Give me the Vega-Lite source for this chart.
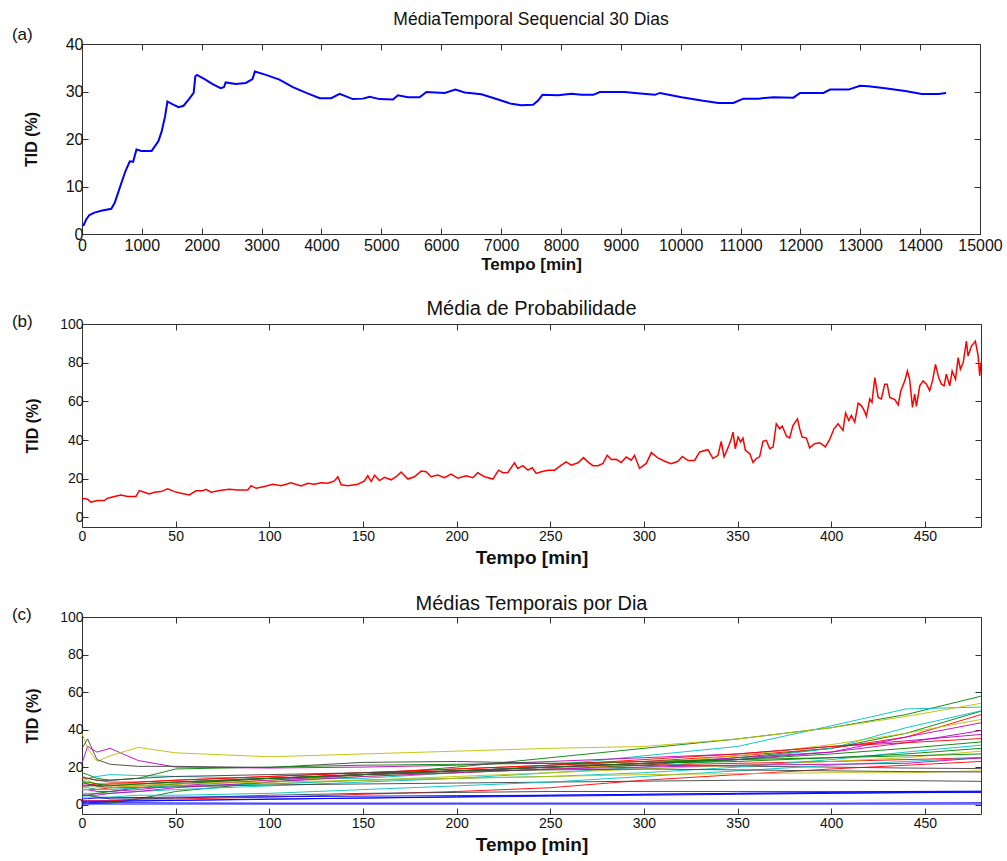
{
 "$schema": "https://vega.github.io/schema/vega-lite/v6.json",
 "background": "white",
 "padding": {"left": 11, "top": 10, "right": 5, "bottom": 5},
 "config": {
  "font": "Liberation Sans",
  "view": {"stroke": "#333", "strokeWidth": 1},
  "axis": {"grid": false, "domain": false, "tickColor": "#333", "tickSize": -6, "labelColor": "#111", "titleColor": "#111", "titleFontWeight": "bold", "labelFlush": false, "labelOverlap": false, "format": "d"},
  "title": {"fontWeight": "normal", "color": "#111"},
  "concat": {"spacing": 25}
 },
 "datasets": {
  "a": [
   {"t":0,"v":1.8},{"t":30,"v":1.9},{"t":67,"v":3.0},{"t":124,"v":4.0},{"t":208,"v":4.5},{"t":320,"v":4.9},{"t":489,"v":5.3},{"t":545,"v":6.5},{"t":601,"v":8.6},{"t":657,"v":10.7},{"t":725,"v":13.2},{"t":798,"v":15.3},{"t":854,"v":15.2},{"t":910,"v":17.8},{"t":994,"v":17.5},{"t":1163,"v":17.5},{"t":1275,"v":19.5},{"t":1331,"v":21.6},{"t":1388,"v":24.8},{"t":1427,"v":27.9},{"t":1500,"v":27.4},{"t":1612,"v":26.7},{"t":1697,"v":27.0},{"t":1781,"v":28.3},{"t":1865,"v":29.7},{"t":1893,"v":33.2},{"t":1921,"v":33.5},{"t":2062,"v":32.5},{"t":2174,"v":31.6},{"t":2315,"v":30.7},{"t":2371,"v":30.9},{"t":2399,"v":31.9},{"t":2567,"v":31.6},{"t":2736,"v":31.8},{"t":2848,"v":32.6},{"t":2888,"v":34.2},{"t":3073,"v":33.5},{"t":3298,"v":32.5},{"t":3522,"v":30.9},{"t":3747,"v":29.7},{"t":3972,"v":28.6},{"t":4163,"v":28.6},{"t":4303,"v":29.5},{"t":4525,"v":28.4},{"t":4693,"v":28.5},{"t":4805,"v":28.9},{"t":4972,"v":28.4},{"t":5195,"v":28.3},{"t":5278,"v":29.2},{"t":5445,"v":28.8},{"t":5640,"v":28.8},{"t":5752,"v":29.9},{"t":6058,"v":29.7},{"t":6237,"v":30.4},{"t":6393,"v":29.8},{"t":6671,"v":29.4},{"t":6950,"v":28.3},{"t":7173,"v":27.4},{"t":7340,"v":27.1},{"t":7535,"v":27.2},{"t":7619,"v":28.1},{"t":7691,"v":29.3},{"t":7953,"v":29.2},{"t":8176,"v":29.5},{"t":8343,"v":29.3},{"t":8539,"v":29.3},{"t":8650,"v":29.9},{"t":9068,"v":29.9},{"t":9235,"v":29.7},{"t":9569,"v":29.3},{"t":9653,"v":29.7},{"t":10016,"v":28.8},{"t":10350,"v":28.1},{"t":10629,"v":27.6},{"t":10880,"v":27.6},{"t":11047,"v":28.5},{"t":11298,"v":28.5},{"t":11549,"v":28.8},{"t":11883,"v":28.7},{"t":11994,"v":29.7},{"t":12385,"v":29.7},{"t":12496,"v":30.4},{"t":12803,"v":30.4},{"t":12997,"v":31.2},{"t":13137,"v":31.1},{"t":13415,"v":30.7},{"t":13750,"v":30.1},{"t":14028,"v":29.5},{"t":14307,"v":29.5},{"t":14434,"v":29.7}
  ],
  "b": [
   {"t":0,"v":9.9},{"t":3,"v":9.4},{"t":4.8,"v":7.9},{"t":8.4,"v":8.7},{"t":11.9,"v":8.7},{"t":13.7,"v":9.9},{"t":17.3,"v":10.8},{"t":20.8,"v":11.6},{"t":24.4,"v":10.8},{"t":28.8,"v":10.8},{"t":30.6,"v":13.8},{"t":33.3,"v":13},{"t":36,"v":12.1},{"t":38.6,"v":13},{"t":42.2,"v":13.3},{"t":45.8,"v":14.7},{"t":49.3,"v":13.3},{"t":52.9,"v":12.5},{"t":57.3,"v":11.6},{"t":60.9,"v":13.7},{"t":64.5,"v":13.8},{"t":66.2,"v":14.5},{"t":68.9,"v":13},{"t":74.3,"v":14},{"t":78.7,"v":14.5},{"t":83.2,"v":14.2},{"t":88.5,"v":14.2},{"t":90.3,"v":16.4},{"t":93,"v":15},{"t":97.4,"v":15.9},{"t":101.9,"v":17.1},{"t":106.3,"v":16.4},{"t":111.6,"v":17.9},{"t":117,"v":16.2},{"t":120.6,"v":17.6},{"t":124.1,"v":17.1},{"t":127.7,"v":17.9},{"t":131.2,"v":17.6},{"t":134.8,"v":18.8},{"t":136.6,"v":21},{"t":138.4,"v":16.8},{"t":141.9,"v":16.4},{"t":147.3,"v":17.1},{"t":150.8,"v":18.8},{"t":152.6,"v":21.5},{"t":154.4,"v":18.5},{"t":156.2,"v":21.8},{"t":158.8,"v":19},{"t":161.5,"v":20.7},{"t":165.1,"v":19.4},{"t":167.7,"v":21},{"t":170.4,"v":23.4},{"t":174,"v":19.8},{"t":177.5,"v":21},{"t":181.1,"v":23.9},{"t":183.8,"v":23.6},{"t":186.4,"v":21},{"t":190,"v":21.9},{"t":193.5,"v":20.5},{"t":197.1,"v":22.4},{"t":200.7,"v":20.2},{"t":205.1,"v":21.5},{"t":208.7,"v":20.5},{"t":211.3,"v":23.1},{"t":214.9,"v":21},{"t":219.4,"v":19.8},{"t":222.4,"v":24.4},{"t":224.7,"v":23.1},{"t":227.4,"v":23.2},{"t":230.9,"v":28.2},{"t":232.7,"v":25.3},{"t":235.4,"v":26.7},{"t":238.1,"v":24.4},{"t":240.4,"v":25.6},{"t":242.5,"v":22.7},{"t":245.2,"v":23.6},{"t":248.8,"v":24.4},{"t":252.3,"v":24.4},{"t":255.9,"v":27},{"t":258.5,"v":28.7},{"t":261.2,"v":27},{"t":264.8,"v":28.2},{"t":267.8,"v":30.9},{"t":270.1,"v":28.7},{"t":272.8,"v":26.7},{"t":275.5,"v":26.7},{"t":278.2,"v":27.9},{"t":280.4,"v":32.1},{"t":282.6,"v":29.9},{"t":285.3,"v":30},{"t":287.9,"v":28.4},{"t":290.6,"v":31.2},{"t":293.3,"v":29.6},{"t":295,"v":32.1},{"t":297.7,"v":25.3},{"t":301.3,"v":27.9},{"t":304,"v":33.5},{"t":307.5,"v":30.7},{"t":311.1,"v":29},{"t":314.6,"v":27.7},{"t":318.2,"v":29},{"t":320.5,"v":31.5},{"t":323.6,"v":29.4},{"t":327.1,"v":29.4},{"t":329.8,"v":33.8},{"t":334.2,"v":35},{"t":336.9,"v":30.4},{"t":339.6,"v":32.1},{"t":341.3,"v":39.3},{"t":342.8,"v":31.3},{"t":344.9,"v":35.9},{"t":346.7,"v":40.7},{"t":347.6,"v":44.1},{"t":348.8,"v":35.5},{"t":350.3,"v":41.5},{"t":351.7,"v":39},{"t":352.9,"v":41},{"t":354.2,"v":34.7},{"t":356.5,"v":33},{"t":358.3,"v":28.4},{"t":360,"v":30.4},{"t":361.8,"v":31.3},{"t":363.6,"v":39.3},{"t":365.4,"v":39.8},{"t":367.2,"v":35.5},{"t":369,"v":36.4},{"t":370.7,"v":48.4},{"t":372.5,"v":45.8},{"t":373.9,"v":47.2},{"t":376.1,"v":42.1},{"t":377.8,"v":41},{"t":379.6,"v":47.5},{"t":382,"v":50.9},{"t":383.2,"v":45.8},{"t":384.5,"v":41.5},{"t":386.8,"v":41},{"t":388.5,"v":35.9},{"t":391.2,"v":38.1},{"t":393.9,"v":38.6},{"t":396.9,"v":36.4},{"t":399.2,"v":40.3},{"t":401.5,"v":45.8},{"t":403.7,"v":48.4},{"t":406.3,"v":45},{"t":407.7,"v":54},{"t":409.4,"v":50.1},{"t":410.8,"v":52.7},{"t":412.6,"v":49.2},{"t":414.4,"v":59.1},{"t":416.1,"v":57.8},{"t":417.4,"v":55.7},{"t":418.8,"v":52.3},{"t":420.6,"v":61.2},{"t":421.8,"v":59.5},{"t":423.3,"v":72.3},{"t":425.1,"v":62},{"t":426.8,"v":61.2},{"t":428.6,"v":68.9},{"t":429.9,"v":68.9},{"t":431.3,"v":62},{"t":434,"v":60.9},{"t":435.8,"v":58.1},{"t":437.2,"v":65.5},{"t":439.3,"v":70.6},{"t":440.7,"v":75.7},{"t":441.9,"v":71.4},{"t":443.4,"v":56.9},{"t":444.6,"v":63.7},{"t":445.5,"v":57.4},{"t":447.3,"v":68},{"t":449.1,"v":70.6},{"t":450.9,"v":68.9},{"t":452.6,"v":65.5},{"t":454.1,"v":70.6},{"t":455.7,"v":79.1},{"t":457.4,"v":72.3},{"t":458.9,"v":68.9},{"t":460.3,"v":68},{"t":461.5,"v":74},{"t":463.3,"v":68},{"t":464.6,"v":75.7},{"t":466.4,"v":71.4},{"t":467.8,"v":82.6},{"t":469,"v":76.6},{"t":470.5,"v":80},{"t":472.2,"v":91.1},{"t":473.1,"v":83.4},{"t":474.9,"v":88.6},{"t":477,"v":91.1},{"t":478.5,"v":83.4},{"t":479.3,"v":73.2},{"t":480,"v":80}
  ],
  "c": [
   {"s":"d01","t":0,"v":1.2},{"s":"d01","t":3,"v":1.2},{"s":"d01","t":8,"v":1.1},{"s":"d01","t":15,"v":1},{"s":"d01","t":30,"v":1},{"s":"d01","t":50,"v":0.9},{"s":"d01","t":100,"v":0.8},{"s":"d01","t":150,"v":0.8},{"s":"d01","t":200,"v":0.8},{"s":"d01","t":250,"v":0.8},{"s":"d01","t":300,"v":0.8},{"s":"d01","t":350,"v":0.8},{"s":"d01","t":400,"v":0.8},{"s":"d01","t":440,"v":0.9},{"s":"d01","t":480,"v":1},
   {"s":"d02","t":0,"v":0.5},{"s":"d02","t":3,"v":0.5},{"s":"d02","t":8,"v":0.6},{"s":"d02","t":15,"v":0.8},{"s":"d02","t":30,"v":3},{"s":"d02","t":50,"v":7},{"s":"d02","t":100,"v":12},{"s":"d02","t":150,"v":16},{"s":"d02","t":200,"v":20},{"s":"d02","t":250,"v":25},{"s":"d02","t":300,"v":30},{"s":"d02","t":350,"v":35},{"s":"d02","t":400,"v":41},{"s":"d02","t":440,"v":48},{"s":"d02","t":480,"v":57.8},
   {"s":"d03","t":0,"v":14},{"s":"d03","t":3,"v":14},{"s":"d03","t":8,"v":13},{"s":"d03","t":15,"v":12},{"s":"d03","t":30,"v":12},{"s":"d03","t":50,"v":13},{"s":"d03","t":100,"v":15},{"s":"d03","t":150,"v":17},{"s":"d03","t":200,"v":19},{"s":"d03","t":250,"v":21},{"s":"d03","t":300,"v":23},{"s":"d03","t":350,"v":26},{"s":"d03","t":400,"v":30},{"s":"d03","t":440,"v":36},{"s":"d03","t":480,"v":48},
   {"s":"d04","t":0,"v":12},{"s":"d04","t":3,"v":14},{"s":"d04","t":8,"v":15},{"s":"d04","t":15,"v":16},{"s":"d04","t":30,"v":15.5},{"s":"d04","t":50,"v":15},{"s":"d04","t":100,"v":14},{"s":"d04","t":150,"v":14},{"s":"d04","t":200,"v":17},{"s":"d04","t":250,"v":21},{"s":"d04","t":300,"v":26},{"s":"d04","t":350,"v":31},{"s":"d04","t":400,"v":42},{"s":"d04","t":440,"v":51},{"s":"d04","t":480,"v":52},
   {"s":"d05","t":0,"v":22},{"s":"d05","t":3,"v":31},{"s":"d05","t":8,"v":28},{"s":"d05","t":15,"v":30},{"s":"d05","t":30,"v":23.5},{"s":"d05","t":50,"v":20},{"s":"d05","t":100,"v":19.5},{"s":"d05","t":150,"v":20},{"s":"d05","t":200,"v":21},{"s":"d05","t":250,"v":23},{"s":"d05","t":300,"v":25},{"s":"d05","t":350,"v":27},{"s":"d05","t":400,"v":31},{"s":"d05","t":440,"v":34},{"s":"d05","t":480,"v":37.4},
   {"s":"d06","t":0,"v":38},{"s":"d06","t":3,"v":30},{"s":"d06","t":8,"v":23},{"s":"d06","t":15,"v":26},{"s":"d06","t":30,"v":30.5},{"s":"d06","t":50,"v":27.6},{"s":"d06","t":100,"v":25.5},{"s":"d06","t":150,"v":27},{"s":"d06","t":200,"v":28.5},{"s":"d06","t":250,"v":30},{"s":"d06","t":300,"v":31},{"s":"d06","t":350,"v":35},{"s":"d06","t":400,"v":41},{"s":"d06","t":440,"v":47},{"s":"d06","t":480,"v":54},
   {"s":"d07","t":0,"v":30},{"s":"d07","t":3,"v":35},{"s":"d07","t":8,"v":24},{"s":"d07","t":15,"v":21.5},{"s":"d07","t":30,"v":20.4},{"s":"d07","t":50,"v":20.4},{"s":"d07","t":100,"v":19.8},{"s":"d07","t":150,"v":22.5},{"s":"d07","t":200,"v":23},{"s":"d07","t":250,"v":22},{"s":"d07","t":300,"v":21},{"s":"d07","t":350,"v":20.5},{"s":"d07","t":400,"v":20},{"s":"d07","t":440,"v":19.5},{"s":"d07","t":480,"v":19.2},
   {"s":"d08","t":0,"v":2},{"s":"d08","t":3,"v":2},{"s":"d08","t":8,"v":2},{"s":"d08","t":15,"v":2},{"s":"d08","t":30,"v":2},{"s":"d08","t":50,"v":2.2},{"s":"d08","t":100,"v":2.8},{"s":"d08","t":150,"v":3.5},{"s":"d08","t":200,"v":4},{"s":"d08","t":250,"v":4.5},{"s":"d08","t":300,"v":5},{"s":"d08","t":350,"v":5.5},{"s":"d08","t":400,"v":6},{"s":"d08","t":440,"v":6.3},{"s":"d08","t":480,"v":6.8},
   {"s":"d09","t":0,"v":10},{"s":"d09","t":3,"v":10},{"s":"d09","t":8,"v":10},{"s":"d09","t":15,"v":10},{"s":"d09","t":30,"v":11},{"s":"d09","t":50,"v":12},{"s":"d09","t":100,"v":14},{"s":"d09","t":150,"v":16},{"s":"d09","t":200,"v":17},{"s":"d09","t":250,"v":19},{"s":"d09","t":300,"v":21},{"s":"d09","t":350,"v":25},{"s":"d09","t":400,"v":30},{"s":"d09","t":440,"v":38},{"s":"d09","t":480,"v":49.8},
   {"s":"d10","t":0,"v":8},{"s":"d10","t":3,"v":8},{"s":"d10","t":8,"v":8},{"s":"d10","t":15,"v":9},{"s":"d10","t":30,"v":10},{"s":"d10","t":50,"v":11},{"s":"d10","t":100,"v":14},{"s":"d10","t":150,"v":16},{"s":"d10","t":200,"v":18},{"s":"d10","t":250,"v":20},{"s":"d10","t":300,"v":21},{"s":"d10","t":350,"v":22},{"s":"d10","t":400,"v":23},{"s":"d10","t":440,"v":24},{"s":"d10","t":480,"v":25},
   {"s":"d11","t":0,"v":6},{"s":"d11","t":3,"v":6},{"s":"d11","t":8,"v":6},{"s":"d11","t":15,"v":6},{"s":"d11","t":30,"v":7},{"s":"d11","t":50,"v":8},{"s":"d11","t":100,"v":10},{"s":"d11","t":150,"v":12},{"s":"d11","t":200,"v":14},{"s":"d11","t":250,"v":17},{"s":"d11","t":300,"v":20},{"s":"d11","t":350,"v":24},{"s":"d11","t":400,"v":30},{"s":"d11","t":440,"v":41},{"s":"d11","t":480,"v":50},
   {"s":"d12","t":0,"v":11},{"s":"d12","t":3,"v":11},{"s":"d12","t":8,"v":10},{"s":"d12","t":15,"v":11},{"s":"d12","t":30,"v":11},{"s":"d12","t":50,"v":12},{"s":"d12","t":100,"v":14},{"s":"d12","t":150,"v":16},{"s":"d12","t":200,"v":18},{"s":"d12","t":250,"v":20},{"s":"d12","t":300,"v":22},{"s":"d12","t":350,"v":24},{"s":"d12","t":400,"v":28},{"s":"d12","t":440,"v":36},{"s":"d12","t":480,"v":43.6},
   {"s":"d13","t":0,"v":15},{"s":"d13","t":3,"v":13},{"s":"d13","t":8,"v":11},{"s":"d13","t":15,"v":10},{"s":"d13","t":30,"v":10},{"s":"d13","t":50,"v":11},{"s":"d13","t":100,"v":13},{"s":"d13","t":150,"v":15},{"s":"d13","t":200,"v":17},{"s":"d13","t":250,"v":19},{"s":"d13","t":300,"v":22},{"s":"d13","t":350,"v":26},{"s":"d13","t":400,"v":32},{"s":"d13","t":440,"v":38},{"s":"d13","t":480,"v":45.4},
   {"s":"d14","t":0,"v":12},{"s":"d14","t":3,"v":11},{"s":"d14","t":8,"v":10},{"s":"d14","t":15,"v":9},{"s":"d14","t":30,"v":9},{"s":"d14","t":50,"v":9.5},{"s":"d14","t":100,"v":10.5},{"s":"d14","t":150,"v":11},{"s":"d14","t":200,"v":11.5},{"s":"d14","t":250,"v":12},{"s":"d14","t":300,"v":12.5},{"s":"d14","t":350,"v":13},{"s":"d14","t":400,"v":13},{"s":"d14","t":440,"v":12.8},{"s":"d14","t":480,"v":12.4},
   {"s":"d15","t":0,"v":1.5},{"s":"d15","t":3,"v":1.5},{"s":"d15","t":8,"v":1.6},{"s":"d15","t":15,"v":1.7},{"s":"d15","t":30,"v":2},{"s":"d15","t":50,"v":2.3},{"s":"d15","t":100,"v":3},{"s":"d15","t":150,"v":3.5},{"s":"d15","t":200,"v":4.2},{"s":"d15","t":250,"v":5},{"s":"d15","t":300,"v":5.5},{"s":"d15","t":350,"v":6},{"s":"d15","t":400,"v":6.2},{"s":"d15","t":440,"v":6.5},{"s":"d15","t":480,"v":6.5},
   {"s":"d16","t":0,"v":5},{"s":"d16","t":3,"v":5},{"s":"d16","t":8,"v":6},{"s":"d16","t":15,"v":7},{"s":"d16","t":30,"v":9},{"s":"d16","t":50,"v":11},{"s":"d16","t":100,"v":14},{"s":"d16","t":150,"v":16},{"s":"d16","t":200,"v":18},{"s":"d16","t":250,"v":20},{"s":"d16","t":300,"v":22},{"s":"d16","t":350,"v":24},{"s":"d16","t":400,"v":27},{"s":"d16","t":440,"v":30},{"s":"d16","t":480,"v":33.4},
   {"s":"d17","t":0,"v":2},{"s":"d17","t":3,"v":2},{"s":"d17","t":8,"v":2},{"s":"d17","t":15,"v":2},{"s":"d17","t":30,"v":3},{"s":"d17","t":50,"v":3},{"s":"d17","t":100,"v":4},{"s":"d17","t":150,"v":5.5},{"s":"d17","t":200,"v":7},{"s":"d17","t":250,"v":9},{"s":"d17","t":300,"v":13},{"s":"d17","t":350,"v":16},{"s":"d17","t":400,"v":19},{"s":"d17","t":440,"v":21},{"s":"d17","t":480,"v":23},
   {"s":"d18","t":0,"v":4},{"s":"d18","t":3,"v":4},{"s":"d18","t":8,"v":4},{"s":"d18","t":15,"v":4},{"s":"d18","t":30,"v":5},{"s":"d18","t":50,"v":5},{"s":"d18","t":100,"v":6},{"s":"d18","t":150,"v":8},{"s":"d18","t":200,"v":10},{"s":"d18","t":250,"v":12},{"s":"d18","t":300,"v":15},{"s":"d18","t":350,"v":18},{"s":"d18","t":400,"v":21},{"s":"d18","t":440,"v":23},{"s":"d18","t":480,"v":25},
   {"s":"d19","t":0,"v":8},{"s":"d19","t":3,"v":8},{"s":"d19","t":8,"v":7},{"s":"d19","t":15,"v":7},{"s":"d19","t":30,"v":8},{"s":"d19","t":50,"v":10},{"s":"d19","t":100,"v":13},{"s":"d19","t":150,"v":16},{"s":"d19","t":200,"v":18},{"s":"d19","t":250,"v":20},{"s":"d19","t":300,"v":22},{"s":"d19","t":350,"v":25},{"s":"d19","t":400,"v":28},{"s":"d19","t":440,"v":33},{"s":"d19","t":480,"v":39.5},
   {"s":"d20","t":0,"v":8},{"s":"d20","t":3,"v":8},{"s":"d20","t":8,"v":9},{"s":"d20","t":15,"v":9},{"s":"d20","t":30,"v":10},{"s":"d20","t":50,"v":10},{"s":"d20","t":100,"v":11},{"s":"d20","t":150,"v":13},{"s":"d20","t":200,"v":15},{"s":"d20","t":250,"v":17},{"s":"d20","t":300,"v":19},{"s":"d20","t":350,"v":21},{"s":"d20","t":400,"v":23},{"s":"d20","t":440,"v":25},{"s":"d20","t":480,"v":28.5},
   {"s":"d21","t":0,"v":5},{"s":"d21","t":3,"v":5},{"s":"d21","t":8,"v":4},{"s":"d21","t":15,"v":3},{"s":"d21","t":30,"v":3},{"s":"d21","t":50,"v":3.5},{"s":"d21","t":100,"v":5},{"s":"d21","t":150,"v":6},{"s":"d21","t":200,"v":6.5},{"s":"d21","t":250,"v":7},{"s":"d21","t":300,"v":7},{"s":"d21","t":350,"v":7},{"s":"d21","t":400,"v":7},{"s":"d21","t":440,"v":7},{"s":"d21","t":480,"v":7},
   {"s":"d22","t":0,"v":0.3},{"s":"d22","t":3,"v":0.3},{"s":"d22","t":8,"v":0.3},{"s":"d22","t":15,"v":0.3},{"s":"d22","t":30,"v":0.3},{"s":"d22","t":50,"v":0.3},{"s":"d22","t":100,"v":0.3},{"s":"d22","t":150,"v":0.3},{"s":"d22","t":200,"v":0.3},{"s":"d22","t":250,"v":0.3},{"s":"d22","t":300,"v":0.3},{"s":"d22","t":350,"v":0.3},{"s":"d22","t":400,"v":0.3},{"s":"d22","t":440,"v":0.3},{"s":"d22","t":480,"v":0.3},
   {"s":"d23","t":0,"v":17},{"s":"d23","t":3,"v":16},{"s":"d23","t":8,"v":14},{"s":"d23","t":15,"v":13},{"s":"d23","t":30,"v":14},{"s":"d23","t":50,"v":19},{"s":"d23","t":100,"v":20},{"s":"d23","t":150,"v":21},{"s":"d23","t":200,"v":21.5},{"s":"d23","t":250,"v":22},{"s":"d23","t":300,"v":23},{"s":"d23","t":350,"v":24},{"s":"d23","t":400,"v":25},{"s":"d23","t":440,"v":26},{"s":"d23","t":480,"v":27},
   {"s":"d24","t":0,"v":10},{"s":"d24","t":3,"v":10},{"s":"d24","t":8,"v":11},{"s":"d24","t":15,"v":11},{"s":"d24","t":30,"v":12},{"s":"d24","t":50,"v":13},{"s":"d24","t":100,"v":15},{"s":"d24","t":150,"v":17},{"s":"d24","t":200,"v":19},{"s":"d24","t":250,"v":21},{"s":"d24","t":300,"v":24},{"s":"d24","t":350,"v":27},{"s":"d24","t":400,"v":31},{"s":"d24","t":440,"v":33},{"s":"d24","t":480,"v":35.2},
   {"s":"d25","t":0,"v":9},{"s":"d25","t":3,"v":9},{"s":"d25","t":8,"v":8},{"s":"d25","t":15,"v":8},{"s":"d25","t":30,"v":9},{"s":"d25","t":50,"v":10},{"s":"d25","t":100,"v":11},{"s":"d25","t":150,"v":13},{"s":"d25","t":200,"v":14},{"s":"d25","t":250,"v":15},{"s":"d25","t":300,"v":17},{"s":"d25","t":350,"v":20},{"s":"d25","t":400,"v":24},{"s":"d25","t":440,"v":28},{"s":"d25","t":480,"v":31.7},
   {"s":"d26","t":0,"v":5},{"s":"d26","t":3,"v":5},{"s":"d26","t":8,"v":5},{"s":"d26","t":15,"v":6},{"s":"d26","t":30,"v":7},{"s":"d26","t":50,"v":9},{"s":"d26","t":100,"v":12},{"s":"d26","t":150,"v":15},{"s":"d26","t":200,"v":17},{"s":"d26","t":250,"v":19},{"s":"d26","t":300,"v":20},{"s":"d26","t":350,"v":21},{"s":"d26","t":400,"v":21.5},{"s":"d26","t":440,"v":22},{"s":"d26","t":480,"v":24.9},
   {"s":"d27","t":0,"v":12},{"s":"d27","t":3,"v":12},{"s":"d27","t":8,"v":11},{"s":"d27","t":15,"v":11},{"s":"d27","t":30,"v":11},{"s":"d27","t":50,"v":11},{"s":"d27","t":100,"v":12},{"s":"d27","t":150,"v":13},{"s":"d27","t":200,"v":14},{"s":"d27","t":250,"v":15},{"s":"d27","t":300,"v":16},{"s":"d27","t":350,"v":16.5},{"s":"d27","t":400,"v":17},{"s":"d27","t":440,"v":17},{"s":"d27","t":480,"v":18},
   {"s":"d28","t":0,"v":15},{"s":"d28","t":3,"v":14},{"s":"d28","t":8,"v":13},{"s":"d28","t":15,"v":13},{"s":"d28","t":30,"v":14},{"s":"d28","t":50,"v":15},{"s":"d28","t":100,"v":16},{"s":"d28","t":150,"v":17},{"s":"d28","t":200,"v":18},{"s":"d28","t":250,"v":18.5},{"s":"d28","t":300,"v":19},{"s":"d28","t":350,"v":18.5},{"s":"d28","t":400,"v":18},{"s":"d28","t":440,"v":17.6},{"s":"d28","t":480,"v":17.4},
   {"s":"d29","t":0,"v":3},{"s":"d29","t":3,"v":3.2},{"s":"d29","t":8,"v":3.5},{"s":"d29","t":15,"v":3.6},{"s":"d29","t":30,"v":3.8},{"s":"d29","t":50,"v":4},{"s":"d29","t":100,"v":4.2},{"s":"d29","t":150,"v":4.5},{"s":"d29","t":200,"v":4.8},{"s":"d29","t":250,"v":5},{"s":"d29","t":300,"v":5.5},{"s":"d29","t":350,"v":6},{"s":"d29","t":400,"v":6.5},{"s":"d29","t":440,"v":7},{"s":"d29","t":480,"v":7.2},
   {"s":"d30","t":0,"v":12},{"s":"d30","t":3,"v":12},{"s":"d30","t":8,"v":11},{"s":"d30","t":15,"v":10},{"s":"d30","t":30,"v":11},{"s":"d30","t":50,"v":12},{"s":"d30","t":100,"v":14},{"s":"d30","t":150,"v":16},{"s":"d30","t":200,"v":18},{"s":"d30","t":250,"v":20},{"s":"d30","t":300,"v":22},{"s":"d30","t":350,"v":23},{"s":"d30","t":400,"v":25},{"s":"d30","t":440,"v":27},{"s":"d30","t":480,"v":30}
  ]
 },
 "vconcat": [
  {
   "width": 898, "height": 190,
   "title": {"text": "MédiaTemporal Sequencial 30 Dias", "fontSize": 17.5, "offset": -3},
   "layer": [
    {"data": {"name": "a"}, "mark": {"type": "line", "color": "#0000ff", "strokeWidth": 2},
     "encoding": {
      "x": {"field": "t", "type": "quantitative", "scale": {"domain": [0, 15000], "nice": false}, "axis": {"values": [0,1000,2000,3000,4000,5000,6000,7000,8000,9000,10000,11000,12000,13000,14000,15000], "title": "Tempo [min]", "titleFontSize": 17, "labelFontSize": 16, "labelPadding": 9, "titlePadding": 3}},
      "y": {"field": "v", "type": "quantitative", "scale": {"domain": [0, 40], "nice": false}, "axis": {"values": [0,10,20,30,40], "title": "TID (%)", "titleFontSize": 16, "labelFontSize": 16, "labelPadding": 5, "titlePadding": 26}}
     }},
    {"data": {"values": [{"label": "(a)"}]}, "mark": {"type": "text", "fontSize": 17, "align": "left", "baseline": "middle", "color": "#111"},
     "encoding": {
      "x": {"datum": -1171, "type": "quantitative", "scale": {"domain": [0, 15000], "nice": false}, "axis": {"orient": "top", "values": [0,1000,2000,3000,4000,5000,6000,7000,8000,9000,10000,11000,12000,13000,14000,15000], "labels": false, "title": null}},
      "y": {"datum": 42, "type": "quantitative", "scale": {"domain": [0, 40], "nice": false}, "axis": {"orient": "right", "values": [0,10,20,30,40], "labels": false, "title": null}},
      "text": {"field": "label"}
     }}
   ],
   "resolve": {"scale": {"x": "independent", "y": "independent"}}
  },
  {
   "width": 899, "height": 203,
   "title": {"text": "Média de Probabilidade", "fontSize": 20, "offset": -6},
   "layer": [
    {"data": {"name": "b"}, "mark": {"type": "line", "color": "#ff0000", "strokeWidth": 1.5},
     "encoding": {
      "x": {"field": "t", "type": "quantitative", "scale": {"domain": [0, 480], "nice": false}, "axis": {"values": [0,50,100,150,200,250,300,350,400,450], "title": "Tempo [min]", "titleFontSize": 19, "labelFontSize": 14, "labelPadding": 8, "titlePadding": 5}},
      "y": {"field": "v", "type": "quantitative", "scale": {"domain": [-5, 100], "nice": false}, "axis": {"values": [0,20,40,60,80,100], "title": "TID (%)", "titleFontSize": 16, "labelFontSize": 14, "labelPadding": 5, "titlePadding": 19}}
     }},
    {"data": {"values": [{"label": "(b)"}]}, "mark": {"type": "text", "fontSize": 17, "align": "left", "baseline": "middle", "color": "#111"},
     "encoding": {
      "x": {"datum": -37.4, "type": "quantitative", "scale": {"domain": [0, 480], "nice": false}, "axis": {"orient": "top", "values": [0,50,100,150,200,250,300,350,400,450], "labels": false, "title": null}},
      "y": {"datum": 101, "type": "quantitative", "scale": {"domain": [-5, 100], "nice": false}, "axis": {"orient": "right", "values": [0,20,40,60,80,100], "labels": false, "title": null}},
      "text": {"field": "label"}
     }}
   ],
   "resolve": {"scale": {"x": "independent", "y": "independent"}}
  },
  {
   "width": 899, "height": 197,
   "title": {"text": "Médias Temporais por Dia", "fontSize": 20, "offset": -8},
   "layer": [
    {"data": {"name": "c"}, "mark": {"type": "line", "strokeWidth": 1, "opacity": 0.9},
     "encoding": {
      "x": {"field": "t", "type": "quantitative", "scale": {"domain": [0, 480], "nice": false}, "axis": {"values": [0,50,100,150,200,250,300,350,400,450], "title": "Tempo [min]", "titleFontSize": 19, "labelFontSize": 14, "labelPadding": 8, "titlePadding": 5}},
      "y": {"field": "v", "type": "quantitative", "scale": {"domain": [-5, 100], "nice": false}, "axis": {"values": [0,20,40,60,80,100], "title": "TID (%)", "titleFontSize": 16, "labelFontSize": 14, "labelPadding": 5, "titlePadding": 19}},
      "color": {"field": "s", "type": "nominal", "legend": null, "scale": {"domain": ["d01","d02","d03","d04","d05","d06","d07","d08","d09","d10","d11","d12","d13","d14","d15","d16","d17","d18","d19","d20","d21","d22","d23","d24","d25","d26","d27","d28","d29","d30"], "range": ["#0000ff","#008000","#ff0000","#00bfbf","#bf00bf","#bfbf00","#404040","#0000ff","#008000","#ff0000","#00bfbf","#bf00bf","#bfbf00","#404040","#0000ff","#008000","#ff0000","#00bfbf","#bf00bf","#bfbf00","#404040","#0000ff","#008000","#ff0000","#00bfbf","#bf00bf","#bfbf00","#404040","#0000ff","#008000"]}}
     }},
    {"data": {"values": [{"label": "(c)"}]}, "mark": {"type": "text", "fontSize": 17, "align": "left", "baseline": "middle", "color": "#111"},
     "encoding": {
      "x": {"datum": -37.4, "type": "quantitative", "scale": {"domain": [0, 480], "nice": false}, "axis": {"orient": "top", "values": [0,50,100,150,200,250,300,350,400,450], "labels": false, "title": null}},
      "y": {"datum": 101, "type": "quantitative", "scale": {"domain": [-5, 100], "nice": false}, "axis": {"orient": "right", "values": [0,20,40,60,80,100], "labels": false, "title": null}},
      "text": {"field": "label"}
     }}
   ],
   "resolve": {"scale": {"x": "independent", "y": "independent", "color": "independent"}}
  }
 ]
}
